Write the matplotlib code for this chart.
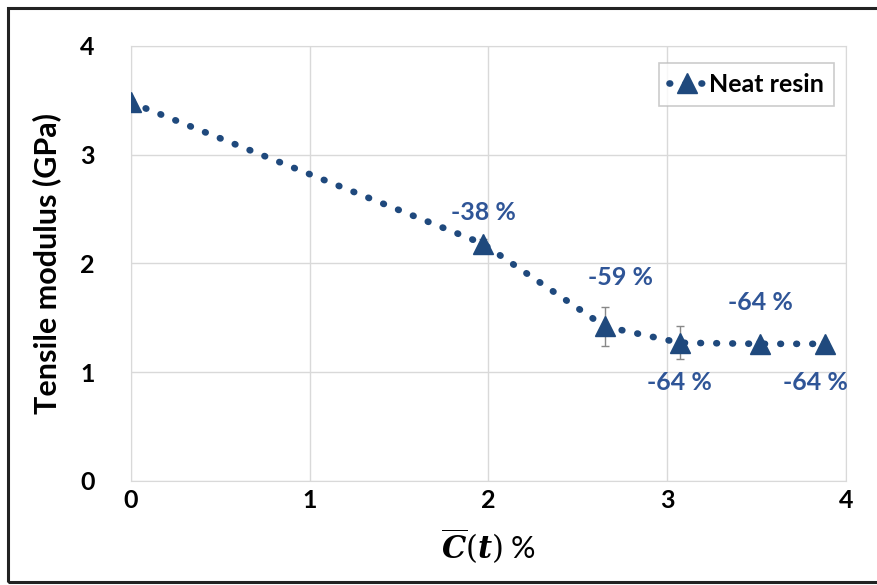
import matplotlib.pyplot as plt
import matplotlib.patches as patches

# data
conc = [0.0, 1.97, 2.65, 3.07, 3.52, 3.88]
modulus = [3.48, 2.18, 1.42, 1.27, 1.26, 1.26]
mod_err = [0.03, 0.04, 0.18, 0.15, 0.03, 0.03]

labels = ['-38 %', '-59 %', '-64 %', '-64 %', '-64 %']
label_x = [1.97, 2.74, 3.07, 3.52, 3.83]
label_y = [2.47, 1.87, 0.90, 1.64, 0.90]

xticks = [0, 1, 2, 3, 4]
yticks = [0, 1, 2, 3, 4]

navy = '#1F497D'
blue_txt = '#2F5597'

plt.rcParams['font.family'] = ['Lato', 'DejaVu Sans']
plt.rcParams['mathtext.fontset'] = 'custom'
plt.rcParams['mathtext.bfit'] = 'DejaVu Serif:italic:bold'
plt.rcParams['mathtext.rm'] = 'DejaVu Serif'

fig = plt.figure(figsize=(8.78, 5.85), dpi=100)
ax = fig.add_axes([0.149, 0.178, 0.8146, 0.7436])

# outer frame (right side runs off the image)
fig.patches.append(patches.Rectangle((8 / 878, 3 / 585), 1.2, 574 / 585,
                                     transform=fig.transFigure, fill=False,
                                     edgecolor='#222222', linewidth=2.2))

ax.errorbar(conc, modulus, yerr=mod_err, fmt='none', ecolor='#888888',
            elinewidth=1, capsize=3, zorder=2)
ax.plot(conc, modulus, linestyle=(0, (0.1, 2.3)), dash_capstyle='round',
        linewidth=4.8, color=navy, marker='^', markersize=14, zorder=3,
        label='Neat resin')

for t, x, y in zip(labels, label_x, label_y):
    ax.text(x, y, t, ha='center', va='center', fontsize=18,
            fontweight='bold', color=blue_txt)

ax.set_xlim(0, 4)
ax.set_ylim(0, 4)
ax.set_xticks(xticks)
ax.set_yticks(yticks)
ax.grid(True, color='#d9d9d9', linewidth=1)
ax.set_axisbelow(True)
for s in ax.spines.values():
    s.set_color('#d9d9d9')
ax.tick_params(length=0, labelsize=18)
ax.tick_params(axis='y', pad=26)
ax.tick_params(axis='x', pad=6)
for lab in ax.get_xticklabels() + ax.get_yticklabels():
    lab.set_fontweight('bold')

ax.set_ylabel('Tensile modulus (GPa)', fontsize=22, fontweight='bold', labelpad=14)
ax.set_xlabel(r'$\overline{\mathbfit{C}}(\mathbfit{t})$ %', fontsize=22, labelpad=10)

leg = ax.legend(loc='upper right', fontsize=18, frameon=True, fancybox=False,
                handlelength=1.5, handletextpad=0.1, borderpad=0.4,
                bbox_to_anchor=(1.0, 0.99))
leg.get_frame().set_edgecolor('#bfbfbf')
leg.get_frame().set_linewidth(1.2)
for t in leg.get_texts():
    t.set_fontweight('bold')

fig.savefig('out.png', dpi=100)
